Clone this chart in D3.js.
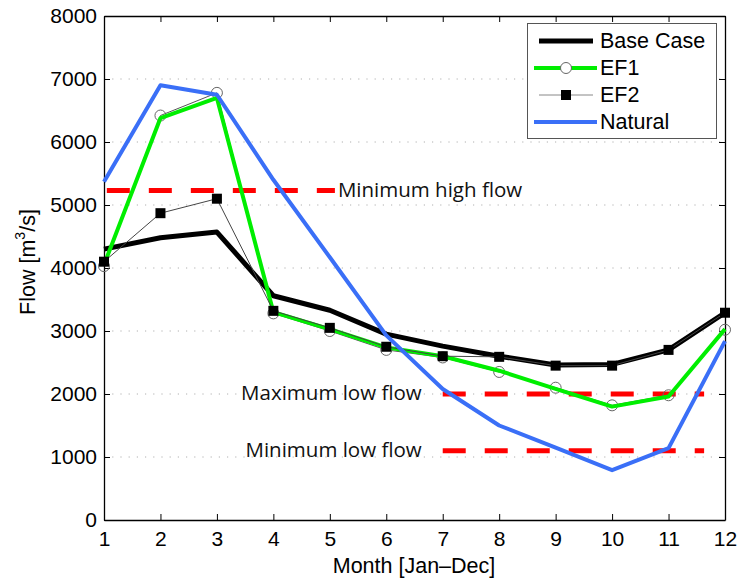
<!DOCTYPE html>
<html>
<head>
<meta charset="utf-8">
<script src="https://cdn.jsdelivr.net/npm/d3@7"></script>
<style>
  html, body { margin: 0; padding: 0; background: #fff; }
  svg { display: block; }
</style>
</head>
<body>
<svg id="chart" width="740" height="578"></svg>
<script>
// Monthly flow regimes [m3/s]
const months = [1, 2, 3, 4, 5, 6, 7, 8, 9, 10, 11, 12];
const baseCase = [4300, 4480, 4570, 3560, 3330, 2950, 2760, 2600, 2460, 2470, 2700, 3290];
const ef1 = [4050, 6380, 6700, 3300, 3030, 2740, 2600, 2370, 2080, 1800, 1960, 3030];
const ef1Points = [4030, 6420, 6780, 3280, 3000, 2700, 2580, 2350, 2100, 1820, 1980, 3020];
const ef2 = [4100, 4870, 5100, 3320, 3050, 2750, 2600, 2590, 2450, 2450, 2700, 3290];
const natural = [5370, 6900, 6750, 5400, 4170, 2930, 2080, 1500, 1150, 790, 1140, 2840];

// Flow thresholds, drawn over a range of months
const thresholdNames = ["Minimum high flow", "Maximum low flow", "Minimum low flow"];
const thresholdValues = [5230, 2000, 1100];
const thresholdFrom = [1.05, 7.0, 7.0];
const thresholdTo = [5.09, 11.63, 11.63];

const yTicks = [0, 1000, 2000, 3000, 4000, 5000, 6000, 7000, 8000];
const legendLabels = ["Base Case", "EF1", "EF2", "Natural"];

const svg = d3.select("#chart");
const plotLeft = 104, plotRight = 725, plotTop = 16, plotBottom = 520;

const x = d3.scaleLinear().domain([1, 12]).range([plotLeft, plotRight]);
const y = d3.scaleLinear().domain([0, 8000]).range([plotBottom, plotTop]);

const tickFont = "'Liberation Sans', Arial, Helvetica, sans-serif";
const noteFont = "'Open Sans', 'Noto Sans', sans-serif";

// horizontal dotted grid
svg.append("g")
  .selectAll("line")
  .data(yTicks.slice(1, -1))
  .join("line")
  .attr("x1", plotLeft).attr("x2", plotRight)
  .attr("y1", d => y(d)).attr("y2", d => y(d))
  .attr("stroke", "#b0b0b0")
  .attr("stroke-width", 1)
  .attr("stroke-dasharray", "1.2,7");

// axes: ticks point inward on all four sides
const tick = 6;
const gx = svg.append("g").attr("transform", `translate(0,${plotBottom})`)
  .call(d3.axisBottom(x).tickValues(months).tickFormat(d3.format("d")).tickSize(-tick).tickSizeOuter(0).tickPadding(11));
const gxTop = svg.append("g").attr("transform", `translate(0,${plotTop})`)
  .call(d3.axisTop(x).tickValues(months).tickFormat("").tickSize(-tick).tickSizeOuter(0));
const gy = svg.append("g").attr("transform", `translate(${plotLeft},0)`)
  .call(d3.axisLeft(y).tickValues(yTicks).tickFormat(d3.format("d")).tickSize(-tick).tickSizeOuter(0).tickPadding(7));
const gyRight = svg.append("g").attr("transform", `translate(${plotRight},0)`)
  .call(d3.axisRight(y).tickValues(yTicks).tickFormat("").tickSize(-tick).tickSizeOuter(0));

[gx, gxTop, gy, gyRight].forEach(g => {
  g.selectAll("path.domain").attr("stroke", "#000").attr("stroke-width", 1.3);
  g.selectAll(".tick line").attr("stroke", "#000").attr("stroke-width", 1);
  g.selectAll(".tick text").attr("fill", "#000").style("font-family", tickFont).style("font-size", "21px");
});

// axis titles
svg.append("text")
  .attr("x", 414).attr("y", 566)
  .attr("text-anchor", "middle").attr("dominant-baseline", "central")
  .style("font-family", tickFont).style("font-size", "21.5px")
  .text("Month [Jan\u2013Dec]");

const yTitle = svg.append("text")
  .attr("transform", "translate(28,262) rotate(-90)")
  .attr("text-anchor", "middle").attr("dominant-baseline", "central")
  .style("font-family", tickFont).style("font-size", "21.5px");
yTitle.append("tspan").text("Flow [m");
yTitle.append("tspan").attr("dy", -8).style("font-size", "14px").text("3");
yTitle.append("tspan").attr("dy", 8).text("/s]");

// threshold lines
const thresholds = thresholdNames.map((n, i) => ({
  name: n, value: thresholdValues[i], from: thresholdFrom[i], to: thresholdTo[i]
}));
svg.append("g")
  .selectAll("line")
  .data(thresholds)
  .join("line")
  .attr("x1", d => x(d.from)).attr("x2", d => x(d.to))
  .attr("y1", d => y(d.value)).attr("y2", d => y(d.value))
  .attr("stroke", "#ff0000")
  .attr("stroke-width", 5)
  .attr("stroke-dasharray", "23,19");

svg.append("g")
  .selectAll("text")
  .data(thresholds)
  .join("text")
  .attr("x", d => d.from < 2 ? x(d.to) + 3 : x(d.from) - 21)
  .attr("y", d => y(d.value) - 2)
  .attr("text-anchor", d => d.from < 2 ? "start" : "end")
  .attr("dominant-baseline", "central")
  .attr("fill", "#111")
  .style("font-family", noteFont).style("font-size", "20.5px")
  .text(d => d.name);

// series
const line = d3.line().x((d, i) => x(months[i])).y(d => y(d));

svg.append("path").datum(baseCase).attr("d", line)
  .attr("fill", "none").attr("stroke", "#000").attr("stroke-width", 5).attr("stroke-linejoin", "round");

svg.append("path").datum(ef1Points).attr("d", line)
  .attr("fill", "none").attr("stroke", "#555").attr("stroke-width", 1);
svg.append("g").selectAll("circle").data(ef1Points).join("circle")
  .attr("cx", (d, i) => x(months[i])).attr("cy", d => y(d)).attr("r", 5.5)
  .attr("fill", "none").attr("stroke", "#666").attr("stroke-width", 1);

svg.append("path").datum(ef1).attr("d", line)
  .attr("fill", "none").attr("stroke", "#00ee00").attr("stroke-width", 4).attr("stroke-linejoin", "round");

svg.append("path").datum(ef2).attr("d", line)
  .attr("fill", "none").attr("stroke", "#444").attr("stroke-width", 1);
svg.append("g").selectAll("rect").data(ef2).join("rect")
  .attr("x", (d, i) => x(months[i]) - 5).attr("y", d => y(d) - 5)
  .attr("width", 10).attr("height", 10).attr("fill", "#000");

svg.append("path").datum(natural).attr("d", line)
  .attr("fill", "none").attr("stroke", "#3a6ff7").attr("stroke-width", 4).attr("stroke-linejoin", "round");

// legend
const lg = svg.append("g");
lg.append("rect").attr("x", 527.5).attr("y", 23.5).attr("width", 189).attr("height", 115)
  .attr("fill", "#fff").attr("stroke", "#555").attr("stroke-width", 1);
const rowY = [41, 68, 95, 122];
const items = lg.selectAll("g.item").data(legendLabels).join("g").attr("class", "item")
  .attr("transform", (d, i) => `translate(0,${rowY[i]})`);
items.append("text").attr("x", 600).attr("y", 0).attr("dominant-baseline", "central")
  .style("font-family", tickFont).style("font-size", "21.5px").attr("fill", "#000").text(d => d);

// legend samples
items.filter((d, i) => i === 0).append("line").attr("x1", 539).attr("x2", 593)
  .attr("stroke", "#000").attr("stroke-width", 5);
items.filter((d, i) => i === 1).append("line").attr("x1", 534).attr("x2", 597)
  .attr("stroke", "#00ee00").attr("stroke-width", 4);
items.filter((d, i) => i === 1).append("circle").attr("cx", 566).attr("cy", 0).attr("r", 5.5)
  .attr("fill", "#fff").attr("stroke", "#666");
items.filter((d, i) => i === 2).append("line").attr("x1", 539).attr("x2", 593)
  .attr("stroke", "#888").attr("stroke-width", 1);
items.filter((d, i) => i === 2).append("rect").attr("x", 561).attr("y", -5).attr("width", 10).attr("height", 10)
  .attr("fill", "#000");
items.filter((d, i) => i === 3).append("line").attr("x1", 534).attr("x2", 597)
  .attr("stroke", "#3a6ff7").attr("stroke-width", 4);
</script>
</body>
</html>
